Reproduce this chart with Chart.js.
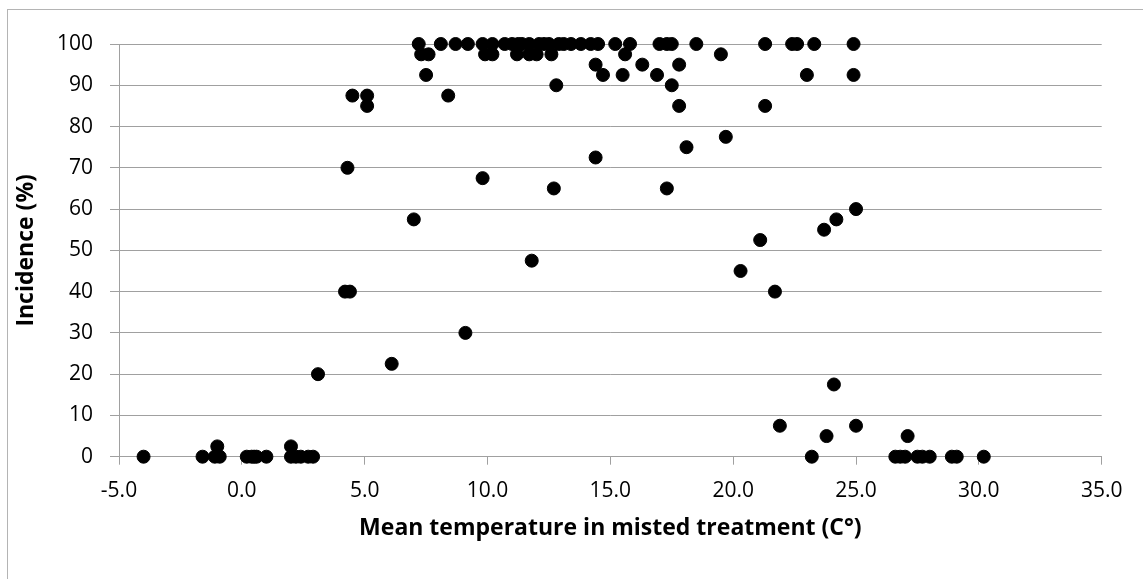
<!DOCTYPE html>
<html>
<head>
<meta charset="utf-8">
<script src="https://cdn.jsdelivr.net/npm/chart.js@4/dist/chart.umd.min.js"></script>
<style>
  html, body { margin: 0; padding: 0; background: #fff; }
  #wrap { width: 1143px; height: 579px; position: relative; }
</style>
</head>
<body>
<div id="wrap"><canvas id="incChart"></canvas></div>
<script>
// --- Data ---
const tempX = [
  -4.0, -1.6, -1.1, -1.0, -0.9, 0.2, 0.4, 0.5, 0.6, 1.0,
  2.0, 2.0, 2.2, 2.4, 2.7, 2.9, 3.1, 4.2, 4.4, 4.3,
  4.5, 5.1, 5.1, 6.1, 7.0, 9.1,
  // 100 row
  7.2, 8.1, 8.7, 9.2, 9.8, 10.2, 10.7, 11.0, 11.25, 11.4, 11.7, 12.1, 12.3, 12.5, 12.9,
  13.1, 13.4, 13.8, 14.2, 14.5, 15.2, 15.8, 17.0, 17.3, 17.5, 18.5, 21.3, 22.4, 22.6, 23.3, 24.9,
  // 97.5 row
  7.3, 7.6, 9.9, 10.2, 11.2, 11.7, 12.0, 12.6, 15.6, 19.5,
  // 95 / 92.5 / 90
  14.4, 16.3, 17.8,
  7.5, 14.7, 15.5, 16.9, 23.0, 24.9,
  12.8, 17.5,
  // middle
  8.4, 17.8, 21.3, 19.7, 18.1, 14.4, 9.8, 12.7, 17.3, 25.0,
  24.2, 23.7, 21.1, 11.8, 20.3, 21.7, 24.1, 21.9, 25.0, 23.8, 27.1,
  // 0 row, warm end
  23.2, 26.6, 26.8, 27.0, 27.5, 27.7, 28.0, 28.9, 29.1, 30.2
];
const incidenceY = [
  0, 0, 0, 2.5, 0, 0, 0, 0, 0, 0,
  2.5, 0, 0, 0, 0, 0, 20, 40, 40, 70,
  87.5, 87.5, 85, 22.5, 57.5, 30,
  100, 100, 100, 100, 100, 100, 100, 100, 100, 100, 100, 100, 100, 100, 100,
  100, 100, 100, 100, 100, 100, 100, 100, 100, 100, 100, 100, 100, 100, 100, 100,
  97.5, 97.5, 97.5, 97.5, 97.5, 97.5, 97.5, 97.5, 97.5, 97.5,
  95, 95, 95,
  92.5, 92.5, 92.5, 92.5, 92.5, 92.5,
  90, 90,
  87.5, 85, 85, 77.5, 75, 72.5, 67.5, 65, 65, 60,
  57.5, 55, 52.5, 47.5, 45, 40, 17.5, 7.5, 7.5, 5, 5,
  0, 0, 0, 0, 0, 0, 0, 0, 0, 0
];
const xTitle = 'Mean temperature in misted treatment (C°)';
const yTitle = 'Incidence (%)';

const points = tempX.map((x, i) => ({ x: x, y: incidenceY[i] }));

const FONT = "'Open Sans', 'Liberation Sans', sans-serif";
const GRID = '#a0a0a0';

// outer frame of the chart object
const framePlugin = {
  id: 'frame',
  beforeDraw(chart) {
    const ctx = chart.ctx;
    ctx.save();
    ctx.fillStyle = '#fff';
    ctx.fillRect(0, 0, chart.width, chart.height);
    ctx.strokeStyle = '#b4b4b4';
    ctx.lineWidth = 1;
    ctx.strokeRect(7.5, 9.5, chart.width + 20, chart.height + 20);
    ctx.restore();
  }
};

function noPad(s) {
  s.paddingTop = 0; s.paddingBottom = 0; s.paddingLeft = 0; s.paddingRight = 0;
}

new Chart(document.getElementById('incChart'), {
  type: 'scatter',
  data: {
    datasets: [{
      data: points,
      backgroundColor: '#000',
      borderColor: '#000',
      borderWidth: 1,
      pointRadius: 6.5,
      pointHoverRadius: 6.5,
      clip: false
    }]
  },
  plugins: [framePlugin],
  options: {
    responsive: true,
    maintainAspectRatio: false,
    animation: false,
    layout: { padding: { left: 0, top: 44, right: 41.3, bottom: 0 } },
    plugins: { legend: { display: false }, tooltip: { enabled: false } },
    scales: {
      x: {
        type: 'linear',
        min: -5, max: 35,
        afterFit: s => { s.height = 122.3; noPad(s); },
        ticks: {
          stepSize: 5,
          padding: 14,
          color: '#000',
          font: { family: FONT, size: 21 },
          maxRotation: 0,
          callback: v => v.toFixed(1)
        },
        grid: { drawOnChartArea: false, drawTicks: true, tickLength: 8, color: GRID },
        border: { color: GRID, width: 1 },
        title: {
          display: true,
          text: xTitle,
          color: '#000',
          font: { family: FONT, size: 23, weight: 'bold' },
          padding: { top: 0, bottom: 37 }
        }
      },
      y: {
        min: 0, max: 100,
        afterFit: s => { s.width = 119; noPad(s); },
        ticks: {
          stepSize: 10,
          padding: 17,
          color: '#000',
          font: { family: FONT, size: 21 }
        },
        grid: { color: GRID, tickLength: 9, lineWidth: 1 },
        border: { color: GRID, width: 1 },
        title: {
          display: true,
          text: yTitle,
          color: '#000',
          font: { family: FONT, size: 23, weight: 'bold' },
          padding: { top: 13, bottom: 0 }
        }
      }
    }
  }
});
</script>
</body>
</html>
